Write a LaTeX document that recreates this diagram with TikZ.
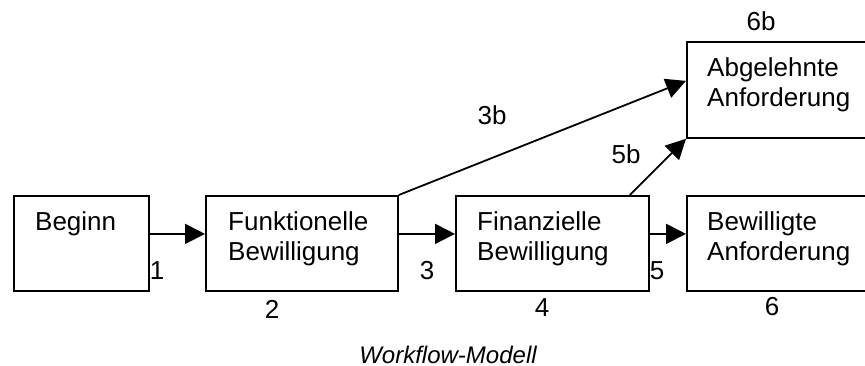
\documentclass[tikz,border=0pt]{standalone}
\usepackage{fontspec}
\setmainfont{Liberation Sans}
\usetikzlibrary{arrows.meta}
\tikzset{
  box/.style={draw, line width=1.8pt, rectangle, inner sep=0pt, anchor=north west},
  boxtext/.style={anchor=north west, inner sep=0pt, align=left, font=\fontsize{26}{30}\selectfont},
  num/.style={inner sep=0pt, font=\fontsize{26}{30}\selectfont},
  flow/.style={line width=1.8pt, -{Triangle[length=20pt,width=20pt]}},
}
\begin{document}
\begin{tikzpicture}[x=1pt, y=-1pt]
\useasboundingbox (0,0) rectangle (865,366);

% process boxes
\node[box, minimum width=135pt, minimum height=95pt] (b1) at (13,195) {};
\node[box, minimum width=192pt, minimum height=95pt] (b2) at (205,195) {};
\node[box, minimum width=193pt, minimum height=95pt] (b4) at (455,195) {};
\node[box, minimum width=190pt, minimum height=95pt] (b6) at (686,195) {};
\node[box, minimum width=190pt, minimum height=96pt] (b6b) at (686,41) {};

% box captions
\node[boxtext] (t1) at ([shift={(22pt,-14pt)}]b1.north west) {\strut Beginn};
\node[boxtext] (t2) at ([shift={(23pt,-14pt)}]b2.north west) {\strut Funktionelle\\\strut Bewilligung};
\node[boxtext] (t4) at ([shift={(22pt,-14pt)}]b4.north west) {\strut Finanzielle\\\strut Bewilligung};
\node[boxtext] (t6) at ([shift={(21pt,-14pt)}]b6.north west) {\strut Bewilligte\\\strut Anforderung};
\node[boxtext] (t6b) at ([shift={(21pt,-14pt)}]b6b.north west) {\strut Abgelehnte\\\strut Anforderung};

% connectors
\draw[flow] ([yshift=9.5pt]b1.east) -- ([yshift=9.5pt]b2.west);
\draw[flow] ([yshift=9.5pt]b2.east) -- ([yshift=9.5pt]b4.west);
\draw[flow] ([yshift=9.5pt]b4.east) -- ([yshift=9.5pt]b6.west);
\draw[flow] (b2.north east) -- ([yshift=9pt]b6b.west);
\draw[flow] ([xshift=-20pt]b4.north east) -- (b6b.south west);

% step numbers
\node[num] (n1) at (157,271) {1};
\node[num] (n2) at (272,309) {2};
\node[num] (n3) at (427,271) {3};
\node[num] (n4) at (542,308) {4};
\node[num] (n5) at (657,271) {5};
\node[num] (n6) at (772,307) {6};
\node[num] (n6b) at (761,21) {6b};
\node[num] (n3b) at (492,115) {3b};
\node[num] (n5b) at (626,154) {5b};

% caption
\node[inner sep=0pt, font=\fontsize{24}{28}\selectfont\itshape] (cap) at (448,355) {Workflow-Modell};
\end{tikzpicture}
\end{document}
